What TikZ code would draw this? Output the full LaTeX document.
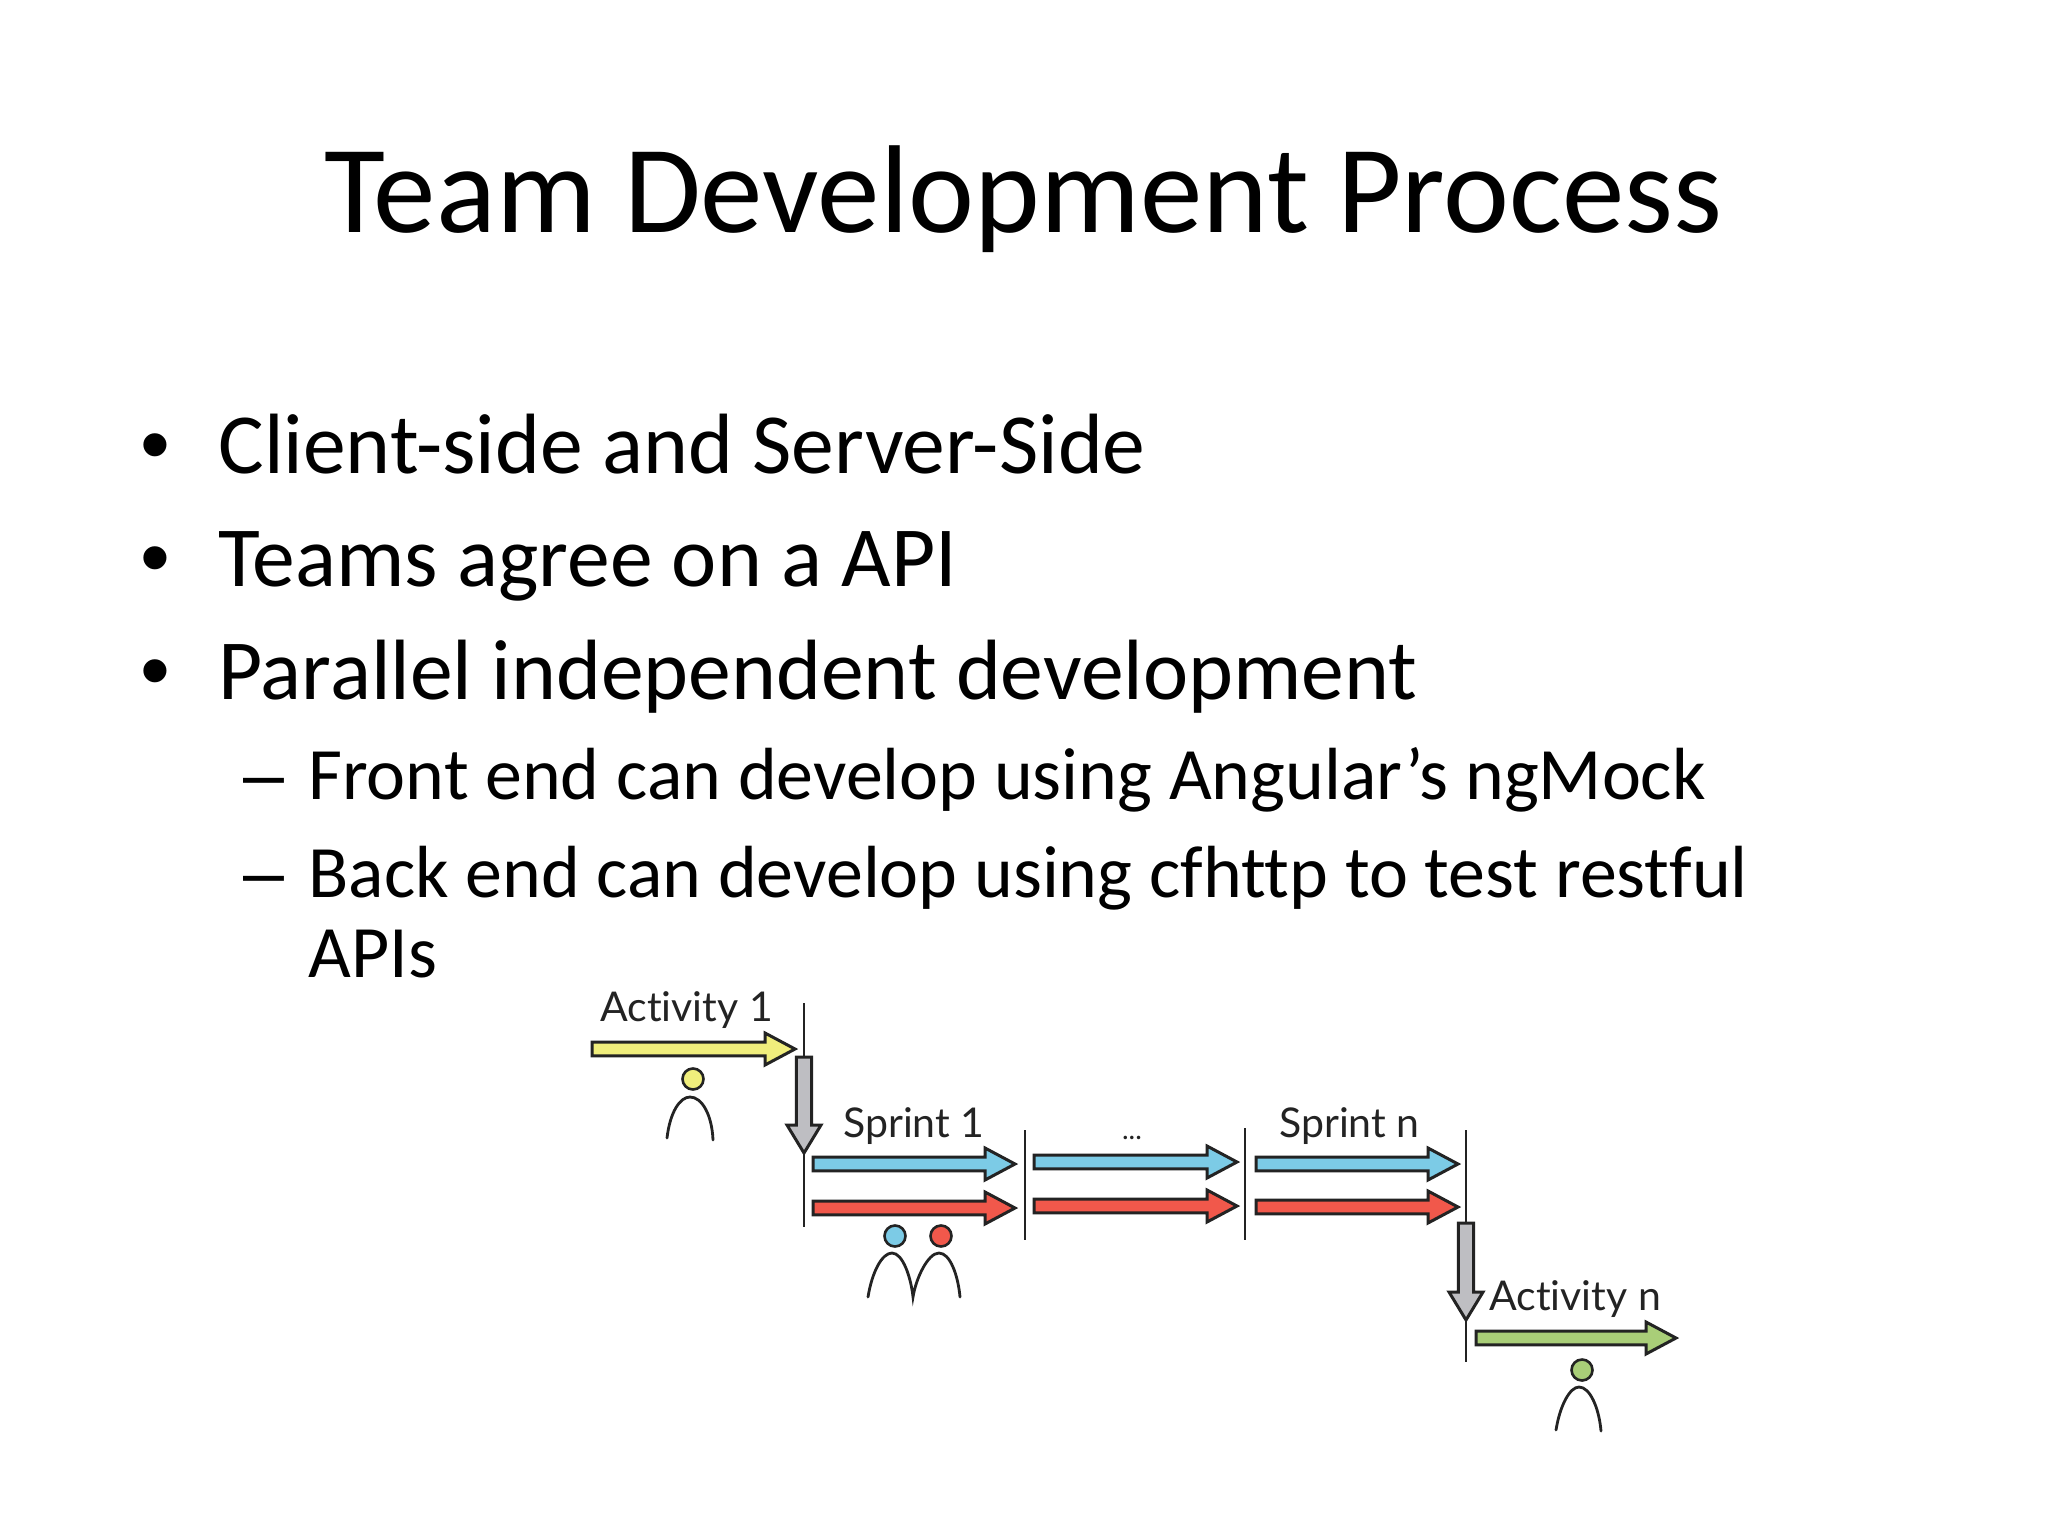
\documentclass[tikz,border=0pt]{standalone}
\usepackage{fontspec}
\setmainfont{Carlito}[Ligatures=NoCommon]
\newfontfamily\markfont{Liberation Sans}
\newfontfamily\figfont{Lato}[Ligatures=NoCommon]
\usetikzlibrary{calc}
\definecolor{inkc}{HTML}{232323}
\definecolor{fillyellow}{HTML}{F0EE7C}
\definecolor{fillblue}{HTML}{7CCBE6}
\definecolor{fillred}{HTML}{F1584B}
\definecolor{fillgreen}{HTML}{A9CE78}
\definecolor{fillgray}{HTML}{BEBEC2}
\tikzset{
  x=0.5pt,y=-0.5pt,
  titletext/.style={font=\fontsize{62.5}{66}\selectfont,anchor=base,inner sep=0pt},
  bodytext/.style={font=\fontsize{42.8}{46}\selectfont,anchor=base west,inner sep=0pt},
  subtext/.style={font=\fontsize{36.95}{40}\selectfont,anchor=base west,inner sep=0pt},
  bodymark/.style={font=\markfont\fontsize{42.6}{46}\selectfont,anchor=base west,inner sep=0pt},
  submark/.style={font=\markfont\fontsize{36.8}{40}\selectfont,anchor=base west,inner sep=0pt},
  figlabel/.style={font=\figfont\fontsize{20.5}{22}\selectfont\color{inkc},anchor=base west,inner sep=0pt},
  blockarrow/.style n args={4}{% fill, head length, shaft half width, head half width
    draw=inkc,line width=1.5pt,line join=miter,fill=#1,
    to path={
      ($(\tikztotarget)!#2!(\tikztostart)$) coordinate (bn)
      ($(\tikztostart)!#3!90:(\tikztotarget)$)
      -- ($(bn)!#3!90:(\tikztotarget)$)
      -- ($(bn)!#4!90:(\tikztotarget)$)
      -- (\tikztotarget)
      -- ($(bn)!#4!-90:(\tikztotarget)$)
      -- ($(bn)!#3!-90:(\tikztotarget)$)
      -- ($(\tikztostart)!#3!-90:(\tikztotarget)$)
      -- cycle}},
  hflow/.style={blockarrow={#1}{15pt}{3.4pt}{8pt}},
  phase/.style={draw=inkc,line width=1pt},
  personhead/.style={circle,draw=inkc,line width=1.3pt,minimum size=10.5pt,inner sep=0pt,fill=#1},
  personbody/.style={draw=inkc,line width=1.4pt,line cap=round,fill=none},
}
\begin{document}
\begin{tikzpicture}
\useasboundingbox[fill=white] (0,0) rectangle (2048,1536);
% text
\node[titletext] (title) at (1023,232) {Team Development Process};
\node[bodymark] (b1) at (140,473) {•};
\node[bodytext] (t1) at (218,473) {Client-side and Server-Side};
\node[bodymark] (b2) at (140,586) {•};
\node[bodytext] (t2) at (218,586) {Teams agree on a API};
\node[bodymark] (b3) at (140,699) {•};
\node[bodytext] (t3) at (218,699) {Parallel independent development};
\node[submark] (d1) at (243,799) {–};
\node[subtext] (s1) at (308,799) {Front end can develop using Angular’s ngMock};
\node[submark] (d2) at (243,897) {–};
\node[subtext] (s2) at (308,897) {Back end can develop using cfhttp to test restful};
\node[subtext] (s2b) at (308,977) {APIs};
% figure labels
\node[figlabel] (la1) at (600,1021) {Activity 1};
\node[figlabel] (ls1) at (843,1137) {Sprint 1};
\node[figlabel,anchor=base,font=\figfont\fontsize{14}{16}\selectfont\color{inkc}] (ldots) at (1132,1139) {...};
\node[figlabel] (lsn) at (1279,1137) {Sprint n};
\node[figlabel] (lan) at (1489,1310) {Activity n};
% phase lines
\coordinate (v1a) at (804,1003); \coordinate (v1b) at (804,1227);
\coordinate (v2a) at (1025,1130); \coordinate (v2b) at (1025,1240);
\coordinate (v3a) at (1245,1128); \coordinate (v3b) at (1245,1240);
\coordinate (v4a) at (1466,1130); \coordinate (v4b) at (1466,1362);
\draw[phase] (v1a) -- (v1b);
\draw[phase] (v2a) -- (v2b);
\draw[phase] (v3a) -- (v3b);
\draw[phase] (v4a) -- (v4b);
% gray transitions
\coordinate (g1a) at (804,1057); \coordinate (g1b) at (804,1153);
\coordinate (g2a) at (1466,1223); \coordinate (g2b) at (1466,1320);
\draw[blockarrow={fillgray}{14pt}{3.8pt}{8.5pt}] (g1a) to (g1b);
\draw[blockarrow={fillgray}{14pt}{3.8pt}{8.5pt}] (g2a) to (g2b);
% flow arrows
\coordinate (ya) at (592,1049); \coordinate (yb) at (795,1049);
\draw[hflow=fillyellow] (ya) to (yb);
\coordinate (b1a) at (813,1164); \coordinate (b1b) at (1015,1164);
\coordinate (r1a) at (813,1208); \coordinate (r1b) at (1015,1208);
\draw[hflow=fillblue] (b1a) to (b1b);
\draw[hflow=fillred] (r1a) to (r1b);
\coordinate (b2a) at (1034,1162); \coordinate (b2b) at (1237,1162);
\coordinate (r2a) at (1034,1206); \coordinate (r2b) at (1237,1206);
\draw[hflow=fillblue] (b2a) to (b2b);
\draw[hflow=fillred] (r2a) to (r2b);
\coordinate (b3a) at (1256,1164); \coordinate (b3b) at (1458,1164);
\coordinate (r3a) at (1256,1207); \coordinate (r3b) at (1458,1207);
\draw[hflow=fillblue] (b3a) to (b3b);
\draw[hflow=fillred] (r3a) to (r3b);
\coordinate (ga) at (1476,1338); \coordinate (gb) at (1676,1338);
\draw[hflow=fillgreen] (ga) to (gb);
% people
\node[personhead=fillyellow] (hy) at (693,1079) {};
\draw[personbody] (667,1138) .. controls (670,1112) and (680,1097) .. (690,1097) .. controls (702,1097) and (712,1115) .. (713,1140);
\node[personhead=fillblue] (hb) at (895,1236) {};
\node[personhead=fillred] (hr) at (941,1236) {};
\draw[personbody] (868,1297) .. controls (872,1272) and (882,1253) .. (892,1253) .. controls (903,1253) and (911,1278) .. (913,1297) .. controls (916,1278) and (928,1253) .. (939,1253) .. controls (950,1253) and (958,1275) .. (960,1297);
\node[personhead=fillgreen] (hg) at (1582,1370) {};
\draw[personbody] (1556,1430) .. controls (1560,1405) and (1570,1387) .. (1579,1387) .. controls (1590,1387) and (1599,1408) .. (1601,1431);
\end{tikzpicture}
\end{document}
